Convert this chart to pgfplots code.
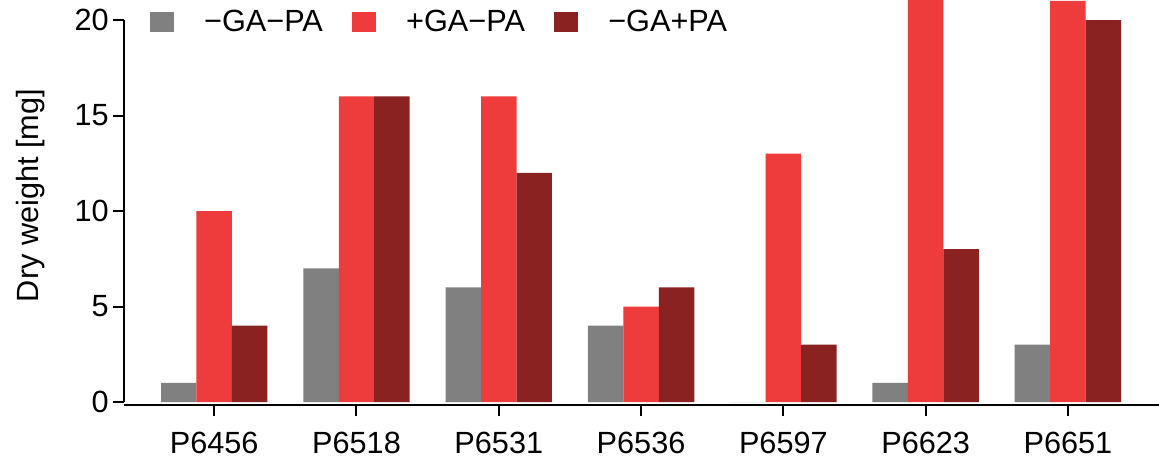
\documentclass[border=0pt]{standalone}
\usepackage{pgfplots}
\pgfplotsset{compat=1.18}
\usepackage{fontspec}
\setmainfont{Liberation Sans}
\definecolor{cgrey}{RGB}{128,128,128}
\definecolor{cred}{RGB}{238,59,59}
\definecolor{cdark}{RGB}{139,34,34}
\begin{document}
\begin{tikzpicture}
\useasboundingbox (-93pt,-42pt) rectangle (776.25pt,303.75pt);
\begin{axis}[
  at={(0,0)}, anchor=south west,
  width=776.25pt, height=303.75pt, scale only axis,
  xmin=-0.634, xmax=6.64, ymin=-0.157, ymax=21.05,
  clip=false,
  ybar=0pt, bar width=26.6pt,
  axis lines*=left,
  y axis line style={draw=none},
  axis line style={line width=1.5pt},
  major tick style={black, line width=1.5pt},
  major tick length=8pt,
  tick align=outside,
  xtick={0,...,6},
  xticklabels={P6456,P6518,P6531,P6536,P6597,P6623,P6651},
  xticklabel style={yshift=-9pt},
  ytick={0,5,10,15,20},
  /pgf/number format/assume math mode=true,
  tick label style={font=\fontsize{23}{27}\selectfont},
  label style={font=\fontsize{23}{27}\selectfont},
  ylabel={Dry weight [mg]},
  ylabel style={at={(axis description cs:-0.0715,0.517)}, anchor=south},
  legend columns=3,
  legend style={draw=none, fill=none, at={(0.025,0.975)}, anchor=north west,
    font=\fontsize{23}{27}\selectfont, inner sep=0pt,
    nodes={inner sep=0pt},
    /tikz/every odd column/.append style={column sep=22.5pt},
    /tikz/every even column/.append style={column sep=22pt}},
  legend image code/.code={\fill[#1] (0pt,-7.5pt) rectangle (18pt,7.5pt);},
]
\addplot[fill=cgrey, draw=none] coordinates {(0,1) (1,7) (2,6) (3,4) (4,0) (5,1) (6,3)};
\addplot[fill=cred, draw=none] coordinates {(0,10) (1,16) (2,16) (3,5) (4,13) (5,21.05) (6,21)};
\addplot[fill=cdark, draw=none] coordinates {(0,4) (1,16) (2,12) (3,6) (4,3) (5,8) (6,20)};
\legend{−GA−PA,+GA−PA,−GA+PA}
\draw[line width=1.5pt] (axis cs:-0.634,0) -- (axis cs:-0.634,20);
\end{axis}
\end{tikzpicture}
\end{document}
